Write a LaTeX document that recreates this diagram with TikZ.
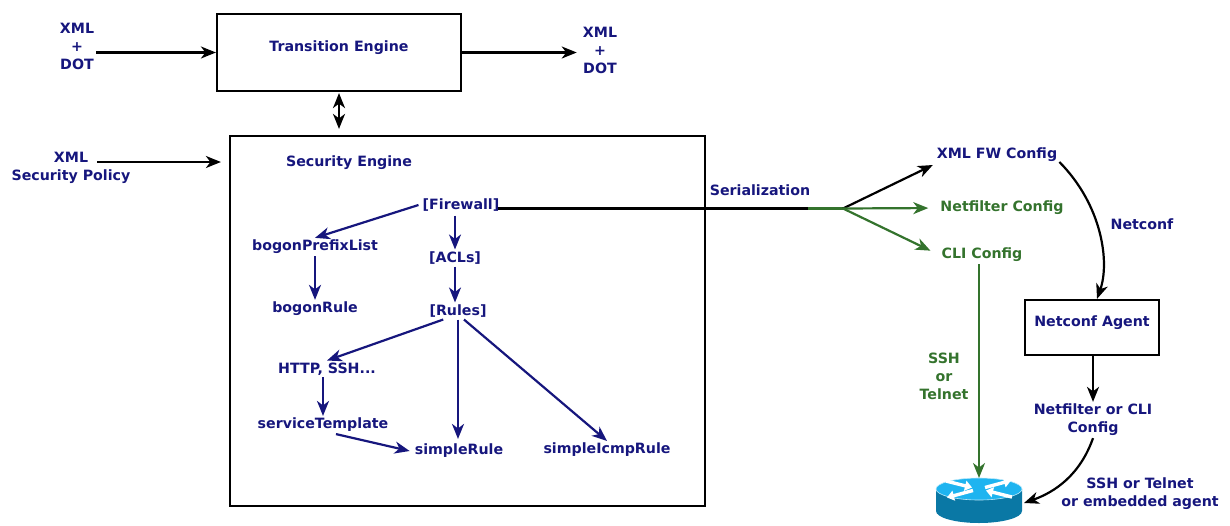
\documentclass[tikz,border=0pt]{standalone}
\usepackage{fontspec}
\setmainfont{DejaVu Sans}
\usetikzlibrary{arrows.meta,calc,shapes.geometric}
\definecolor{nv}{RGB}{22,22,125}
\definecolor{gr}{RGB}{52,115,45}
\definecolor{rtop}{RGB}{30,180,240}
\definecolor{rside}{RGB}{10,120,165}
\begin{document}
\begin{tikzpicture}[x=1pt,y=-1pt,
  every node/.style={font=\fontsize{14.2}{18}\selectfont\bfseries, inner sep=2pt},
  lbl/.style={text=nv, align=center},
  glbl/.style={text=gr, align=center},
  box/.style={draw=black, line width=2.2pt, fill=none},
  tip/.style={-{Stealth[length=15pt,width=12pt,inset=4.5pt]}},
  arr/.style={tip, line width=2.2pt, black},
  narr/.style={tip, line width=2.2pt, nv},
  garr/.style={tip, line width=2.2pt, gr}]
\useasboundingbox (0,0) rectangle (1230,525);

% Transition engine
\node[lbl] (xmlL) at (77,46) {XML\\+\\DOT};
\node[box, minimum width=244pt, minimum height=77pt] (te) at (339,52.5) {};
\node[lbl] (teT) at (339,48) {Transition Engine};
\node[lbl] (xmlR) at (600,50) {XML\\+\\DOT};
\draw[arr] (xmlL.east |- te.west) -- (te.west);
\draw[arr, shorten >=4pt] (te.east) -- (xmlR.west |- te.east);

% Security engine
\node[box, minimum width=475pt, minimum height=370pt] (se) at (467.5,321) {};
\node[lbl] (seT) at (349,163) {Security Engine};
\draw[arr, {Stealth[length=15pt,width=12pt,inset=4.5pt]}-{Stealth[length=15pt,width=12pt,inset=4.5pt]}, shorten >=6pt, shorten <=1pt] (te.south) -- (te.south |- se.north);
\node[lbl] (pol) at (71,168) {XML\\Security Policy};
\coordinate (pin) at (97,162);
\draw[arr, shorten >=8pt] (pin) -- (pin -| se.west);

% inner tree
\node[lbl, inner sep=4pt] (fw) at (461,205) {[Firewall]};
\node[lbl] (bpl) at (315,247) {bogonPrefixList};
\node[lbl] (acl) at (455,258) {[ACLs]};
\node[lbl] (br) at (315,309) {bogonRule};
\node[lbl] (rules) at (458,311) {[Rules]};
\node[lbl] (http) at (327,369) {HTTP, SSH...};
\node[lbl] (st) at (323,425) {serviceTemplate};
\node[lbl, inner sep=5pt] (sr) at (459,451) {simpleRule};
\node[lbl] (sir) at (607,450) {simpleIcmpRule};

\draw[narr] (fw.west) -- (bpl.north);
\draw[narr] (acl.north |- fw.south) -- (acl.north);
\draw[narr] (br.north |- bpl.south) -- (br.north);
\draw[narr] (acl.south) -- (acl.south |- rules.north);
\draw[narr] (rules.-150) -- (http.north);
\draw[narr] (rules.south) -- (rules.south |- sr.north);
\draw[narr] (rules.-55) -- (sir.north);
\draw[narr] (st.north |- http.south) -- (st.north);
\draw[narr] (st.-35) -- (sr.west);

% serialization
\node[lbl] (ser) at (760,190) {Serialization};
\coordinate (bp) at (843,208.5);
\coordinate (gs) at (808,208.5);
\node[lbl] (xfw) at (997,155) {XML FW Config};
\node[glbl] (nfc) at (1002,208) {Netfilter Config};
\node[glbl] (cli) at (982,255) {CLI Config};
\draw[line width=2.2pt, black] ([xshift=-6pt]fw.east |- bp) -- (bp);
\draw[line width=2.2pt, gr] (gs) -- (bp);
\draw[arr, shorten >=2pt] (bp) -- (xfw.south west);
\draw[garr, shorten >=10pt] (bp) -- (nfc.west);
\draw[garr, shorten >=10pt] (bp) -- (cli.west);

% netconf path
\node[box, minimum width=134pt, minimum height=55pt] (na) at (1092,327.5) {};
\node[lbl] (naT) at (1092,323) {Netconf Agent};
\node[lbl] (ncl) at (1142,224) {Netconf};
\draw[arr] (xfw.east) ++(0,7) .. controls (1102,205) and (1110,262) .. (na.north -| 1097,0);
\node[lbl] (nfcli) at (1093,420) {Netfilter or CLI\\Config};
\draw[arr] (na.south -| nfcli.north) -- (nfcli.north);
\node[lbl] (sshe) at (1140,494) {SSH or Telnet\\or embedded agent};

% router
\coordinate (router) at (979,489);
\fill[rside] (936,489) -- (936,511) arc[start angle=180, end angle=360, x radius=43pt, y radius=12pt] -- (1022,489) -- cycle;
\fill[rtop] (router) ellipse[x radius=43pt, y radius=11pt];
\draw[white!70!rtop, line width=0.6pt] (router) ellipse[x radius=43pt, y radius=11pt];
\begin{scope}[white, line width=3.4pt, -{Triangle[length=7pt,width=10pt]}]
\draw (946,481) -- (972,487.5);
\draw (1012,497) -- (986,490.5);
\draw (985,487.5) -- (1011,480.5);
\draw (973,490.5) -- (947,497.5);
\end{scope}
\coordinate (rtopP) at (979,478);
\coordinate (rright) at (1024,503);

\node[glbl] (sshg) at (944,376) {SSH\\or\\Telnet};
\draw[garr] (cli.south -| rtopP) -- (rtopP);
\draw[arr] (nfcli.south) .. controls (1080,475) and (1055,492) .. (rright);
\end{tikzpicture}
\end{document}
